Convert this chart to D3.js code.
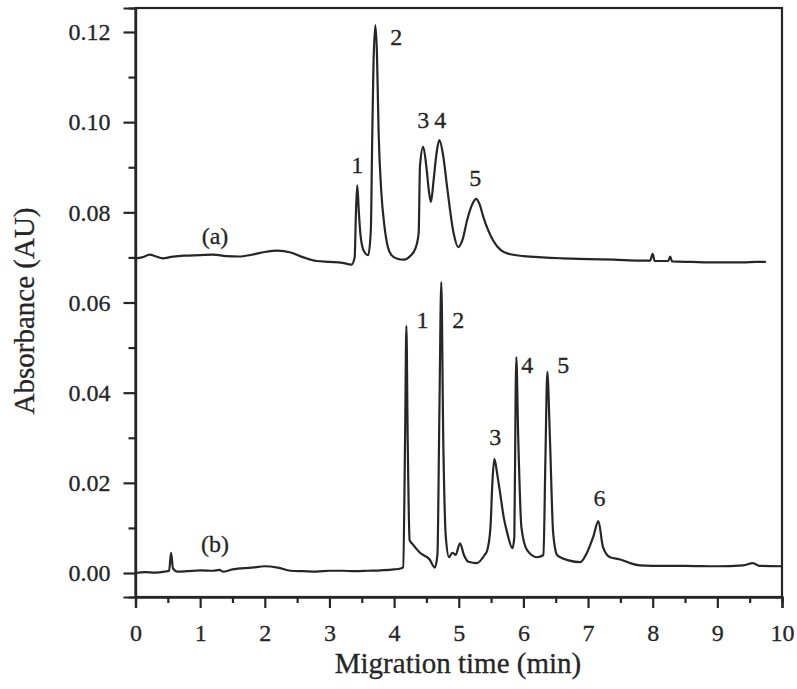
<!DOCTYPE html>
<html><head><meta charset="utf-8">
<script src="https://cdn.jsdelivr.net/npm/d3@7"></script>
<style>
body{margin:0;background:#fff;}
svg{display:block;}
text{font-family:"Liberation Serif","Times New Roman",serif;fill:#262626;}
</style></head>
<body>
<svg id="c" width="797" height="689"></svg>
<script>
// ---- data ----
const xTicks = [0,1,2,3,4,5,6,7,8,9,10];
const xMinorTicks = [0.5,1.5,2.5,3.5,4.5,5.5,6.5,7.5,8.5,9.5];
const yTicks = [0.00,0.02,0.04,0.06,0.08,0.10,0.12];
const yMinorTicks = [0.01,0.03,0.05,0.07,0.09,0.11];

const timeA = [0.00,0.10,0.22,0.32,0.42,0.55,0.75,1.00,1.20,1.40,1.60,1.80,2.00,2.20,2.40,2.60,2.80,3.00,3.20,3.34,
  3.39,3.41,3.43,3.455,3.48,3.53,3.60,3.64,3.66,3.68,3.71,3.735,3.76,3.80,3.85,3.90,3.96,4.05,4.15,4.25,4.33,4.38,
  4.40,4.45,4.50,4.54,4.57,4.61,4.66,4.70,4.76,4.82,4.92,4.99,5.06,5.13,5.20,5.27,5.33,5.38,5.45,5.53,5.65,5.80,
  6.00,6.30,6.60,7.00,7.40,7.80,7.96,8.00,8.03,8.24,8.27,8.30,8.60,9.00,9.40,9.60,9.75];
const absA = [0.0698,0.0700,0.0706,0.0702,0.0698,0.0701,0.0704,0.0705,0.0706,0.0703,0.0702,0.0706,0.0712,0.0715,0.0711,0.0700,0.0692,0.0690,0.0688,0.0684,
  0.0700,0.0800,0.0860,0.0800,0.0750,0.0715,0.0705,0.0760,0.0950,0.1120,0.1215,0.1150,0.0980,0.0850,0.0770,0.0725,0.0705,0.0697,0.0695,0.0703,0.0720,0.0754,
  0.0902,0.0945,0.0900,0.0845,0.0823,0.0870,0.0935,0.0960,0.0925,0.0856,0.0754,0.0723,0.0740,0.0783,0.0815,0.0830,0.0815,0.0790,0.0762,0.0738,0.0716,0.0707,
  0.0703,0.0700,0.0698,0.0696,0.0695,0.0693,0.0693,0.0708,0.0692,0.0692,0.0702,0.0691,0.0690,0.0689,0.0689,0.0690,0.0690];

const timeB = [0.00,0.15,0.30,0.45,0.52,0.55,0.58,0.65,0.80,1.00,1.20,1.30,1.35,1.50,1.80,2.00,2.20,2.40,2.60,2.80,3.00,3.20,3.40,3.60,3.80,4.00,4.10,
  4.14,4.17,4.19,4.21,4.24,4.28,4.40,4.55,4.63,4.67,4.70,4.73,4.76,4.80,4.85,4.90,4.95,5.02,5.08,5.15,5.28,5.40,5.44,5.49,5.52,5.55,5.60,5.64,5.70,5.75,5.83,
  5.86,5.88,5.89,5.92,5.97,6.06,6.21,6.31,6.34,6.37,6.41,6.46,6.52,6.57,6.70,6.88,6.98,7.08,7.16,7.23,7.34,7.50,7.65,7.80,8.00,8.50,9.00,9.40,9.55,9.65,10.00];
const absB = [0.0000,0.0002,0.0001,0.0003,0.0005,0.0045,0.0010,0.0003,0.0004,0.0006,0.0005,0.0007,0.0003,0.0008,0.0012,0.0015,0.0012,0.0005,0.0004,0.0003,0.0005,0.0005,0.0004,0.0005,0.0006,0.0008,0.0010,
  0.0013,0.0300,0.0548,0.0300,0.0073,0.0065,0.0045,0.0030,0.0012,0.0040,0.0350,0.0645,0.0300,0.0080,0.0035,0.0045,0.0040,0.0066,0.0040,0.0025,0.0022,0.0040,0.0050,0.0100,0.0200,0.0253,0.0215,0.0177,0.0120,0.0089,0.0055,
  0.0080,0.0400,0.0479,0.0300,0.0100,0.0050,0.0035,0.0040,0.0250,0.0446,0.0300,0.0090,0.0040,0.0035,0.0028,0.0024,0.0044,0.0080,0.0115,0.0058,0.0035,0.0030,0.0022,0.0017,0.0016,0.0016,0.0015,0.0017,0.0022,0.0016,0.0015];

const peakLabelsA = ["1","2","3","4","5"];
const peakTimesA = [3.43,3.71,4.45,4.70,5.27];
const peakLabelsB = ["1","2","3","4","5","6"];
const peakTimesB = [4.19,4.73,5.55,5.89,6.37,7.16];
const traceNames = ["(a)","(b)"];

// ---- layout ----
const svg = d3.select("#c");
const X0 = 135.5, X1 = 782, Y0 = 597, Y1 = 8;
const x = d3.scaleLinear().domain([0,10]).range([X0,X1]);
const y = d3.scaleLinear().domain([-0.00532,0.12532]).range([Y0,Y1]);
const ink = "#262626";

// frame
svg.append("rect").attr("x",X0).attr("y",Y1).attr("width",X1-X0).attr("height",Y0-Y1)
  .attr("fill","none").attr("stroke",ink).attr("stroke-width",2.2);

// axes
const gx = svg.append("g").attr("transform",`translate(0,${Y0})`)
  .call(d3.axisBottom(x).tickValues(xTicks).tickSize(11).tickPadding(16).tickFormat(d3.format("d")));
const gxm = svg.append("g").attr("transform",`translate(0,${Y0})`)
  .call(d3.axisBottom(x).tickValues(xMinorTicks).tickSize(6).tickFormat(""));
const gy = svg.append("g").attr("transform",`translate(${X0},0)`)
  .call(d3.axisLeft(y).tickValues(yTicks).tickSize(12).tickPadding(13).tickFormat(d3.format(".2f")));
const gym = svg.append("g").attr("transform",`translate(${X0},0)`)
  .call(d3.axisLeft(y).tickValues(yMinorTicks).tickSize(7).tickFormat(""));
[gx,gxm,gy,gym].forEach(g=>{
  g.select(".domain").attr("stroke",ink).attr("stroke-width",2.2);
  g.selectAll(".tick line").attr("stroke",ink).attr("stroke-width",2.2);
  g.selectAll(".tick text").attr("font-size",24).attr("fill",ink)
    .attr("font-family","'Liberation Serif',serif").attr("stroke",ink).attr("stroke-width",0.3);
});

// titles
svg.append("text").attr("x",458).attr("y",673).attr("text-anchor","middle")
  .attr("font-size",29).attr("stroke",ink).attr("stroke-width",0.3).text("Migration time (min)");
svg.append("text").attr("transform","translate(34,311) rotate(-90)").attr("text-anchor","middle")
  .attr("font-size",29).attr("stroke",ink).attr("stroke-width",0.3).text("Absorbance (AU)");

// traces
const line = d3.line().x(d=>x(d[0])).y(d=>y(d[1])).curve(d3.curveMonotoneX);
const dataA = timeA.map((t,i)=>[t,absA[i]]);
const dataB = timeB.map((t,i)=>[t,absB[i]]);
[dataA,dataB].forEach(d=>{
  svg.append("path").datum(d).attr("d",line).attr("fill","none")
    .attr("stroke",ink).attr("stroke-width",2.2).attr("stroke-linejoin","round");
});

// peak labels
const interp = (ts,vs,t)=>{ for(let i=0;i<ts.length-1;i++){ if(t>=ts[i]&&t<=ts[i+1]){ const f=(t-ts[i])/(ts[i+1]-ts[i]); return vs[i]+f*(vs[i+1]-vs[i]);} } return vs[vs.length-1]; };
const offA = [[0,-12],[21,20],[0,-19],[1,-12],[-1,-13]];
peakTimesA.forEach((t,i)=>{
  svg.append("text").attr("x",x(t)+offA[i][0]).attr("y",y(interp(timeA,absA,t))+offA[i][1])
    .attr("text-anchor","middle").attr("font-size",24).attr("stroke",ink).attr("stroke-width",0.3).text(peakLabelsA[i]);
});
const offB = [[16,2],[17,46],[1,-14],[11,16],[16,1],[1,-15]];
peakTimesB.forEach((t,i)=>{
  svg.append("text").attr("x",x(t)+offB[i][0]).attr("y",y(interp(timeB,absB,t))+offB[i][1])
    .attr("text-anchor","middle").attr("font-size",24).attr("stroke",ink).attr("stroke-width",0.3).text(peakLabelsB[i]);
});
svg.append("text").attr("x",x(1.23)).attr("y",y(0.0705)-11).attr("text-anchor","middle")
  .attr("font-size",24).attr("stroke",ink).attr("stroke-width",0.3).text(traceNames[0]);
svg.append("text").attr("x",x(1.23)).attr("y",y(0.0006)-18).attr("text-anchor","middle")
  .attr("font-size",24).attr("stroke",ink).attr("stroke-width",0.3).text(traceNames[1]);
</script>
</body></html>
